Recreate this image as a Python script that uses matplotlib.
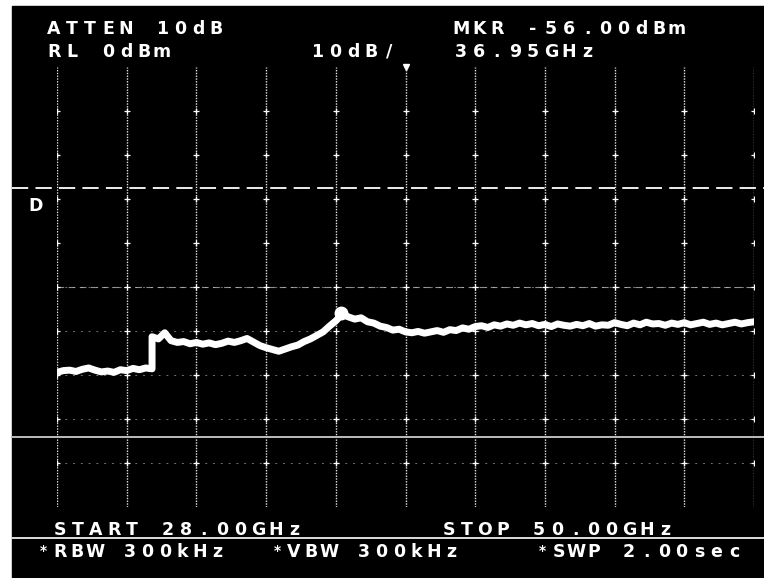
import numpy as np
import matplotlib.pyplot as plt
from matplotlib.lines import Line2D
from matplotlib.patches import Rectangle

W, H = 764, 578

# Sweep setup: 28-50 GHz, ref level 0 dBm, 10 dB/div
f_start, f_stop = 28.0, 50.0
ref_level = 0.0
db_per_div = 10.0
marker_freq = 36.95
marker_level = -56.0
display_line = -27.5
threshold_line = -84.0

# Trace below the 31 GHz step (28.0 - 31.0 GHz, 0.2 GHz steps)
low_level = [-69.4, -69.0, -68.9, -69.2, -68.7, -68.4, -68.9, -69.3,
             -69.1, -69.4, -68.8, -69.0, -68.5, -68.8, -68.4, -68.6]

# Trace above the step (31.0 - 50.0 GHz, 0.2 GHz steps)
high_level = [-61.3, -61.8, -60.4, -62.2, -62.6, -62.4, -62.9, -62.6, -63.0, -62.7,
              -63.1, -62.8, -62.3, -62.6, -62.2, -61.7, -62.5, -63.3, -63.8, -64.2,
              -64.6, -64.1, -63.6, -63.2, -62.4, -61.8, -61.0, -60.2, -58.9, -57.7,
              -56.2, -56.8, -57.3, -57.0, -57.9, -58.2, -58.9, -59.2, -59.8, -59.6,
              -60.2, -60.4, -60.1, -60.5, -60.2, -59.9, -60.3, -59.7, -59.9, -59.3,
              -59.6, -59.0, -58.8, -59.2, -58.6, -58.9, -58.4, -58.7, -58.2, -58.6,
              -58.3, -58.8, -58.5, -59.0, -58.4, -58.7, -58.9, -58.5, -58.8, -58.3,
              -58.9, -58.6, -58.7, -58.1, -58.5, -58.8, -58.2, -58.6, -58.0, -58.4,
              -58.3, -58.7, -58.2, -58.5, -58.1, -58.6, -58.3, -58.0, -58.5, -58.2,
              -58.6, -58.3, -58.0, -58.4, -58.1, -57.9]

f_low = np.linspace(28.0, 31.0, len(low_level))
f_high = np.linspace(31.0, 50.0, len(high_level))
freq = np.concatenate([f_low, f_high])
level = np.concatenate([low_level, high_level])

fig = plt.figure(figsize=(W / 100, H / 100), dpi=100)
fig.patch.set_facecolor('white')
# CRT screen
fig.patches.append(Rectangle((12 / W, 0), 1 - 12 / W, 1 - 6 / H,
                             transform=fig.transFigure, color='black', zorder=-10))

# graticule area: x 57..754 px, y 67..507 px
ax = fig.add_axes([57 / W, (H - 507) / H, 697 / W, 440 / H], zorder=1)
ax.set_xlim(f_start, f_stop)
ax.set_ylim(ref_level - 10 * db_per_div, ref_level)
ax.axis('off')

xdiv = np.linspace(f_start, f_stop, 11)
ydiv = np.linspace(ref_level - 10 * db_per_div, ref_level, 11)

for x in xdiv:
    ax.axvline(x, color='white', lw=1.0, ls=(0, (1, 1)), alpha=0.9)
for y in ydiv[1:6]:
    ax.axhline(y, color='#bbbbbb', lw=0.7, ls=(0, (2, 6)), alpha=0.6)
ax.axhline(-50, color='#cccccc', lw=0.8, ls=(0, (6, 4)), alpha=0.7)

# intersection dots
gx, gy = np.meshgrid(xdiv, ydiv[1:-1])
ax.plot(gx.ravel(), gy.ravel(), '+', color='white', ms=4, mew=0.9)

# display line and threshold line run across the whole screen
ax.axhline(display_line, xmin=-0.065, xmax=1.02, color='white', lw=1.3,
           ls=(0, (9, 4)), clip_on=False)
ax.axhline(threshold_line, xmin=-0.065, xmax=1.02, color='#bdbdbd', lw=1.4,
           clip_on=False)

# trace
ax.plot(freq, level, color='white', lw=5, solid_joinstyle='round')
ax.plot([marker_freq], [marker_level], 'o', color='white', ms=9)
ax.plot([f_start + 5 * (f_stop - f_start) / 10], [ref_level], 'v', color='white',
        ms=5, clip_on=False)

# separator between annotation rows
fig.add_artist(Line2D([12 / W, 1], [1 - 538 / H] * 2, color='#dddddd', lw=1.4))


def screen_text(s, x, y, pitch=18, size=12.5):
    # place characters on a fixed pitch, like the analyzer's character generator
    for i, ch in enumerate(s):
        if ch == ' ':
            continue
        fig.text((x + i * pitch + 7) / W, 1 - y / H, ch, color='white',
                 fontsize=size, family='DejaVu Sans', fontweight='bold',
                 ha='center', va='center')


screen_text('ATTEN 10dB', 47, 29)
screen_text('RL 0dBm', 47, 52)
screen_text('10dB/', 310, 52)
screen_text('MKR -56.00dBm', 454, 29)
screen_text('36.95GHz', 454, 52)
screen_text('D', 29, 206)
screen_text('START 28.00GHz', 53, 530)
screen_text('STOP 50.00GHz', 442, 530)
screen_text('RBW 300kHz', 53, 552, pitch=17.5)
screen_text('VBW 300kHz', 287, 552, pitch=17.5)
screen_text('SWP 2.00sec', 552, 552, pitch=17.5)
for x in (43, 277, 542):
    fig.text(x / W, 1 - 551 / H, '*', color='white', fontsize=10,
             family='DejaVu Sans', fontweight='bold', ha='center', va='center')

fig.savefig('out.png', dpi=100, facecolor=fig.get_facecolor())
